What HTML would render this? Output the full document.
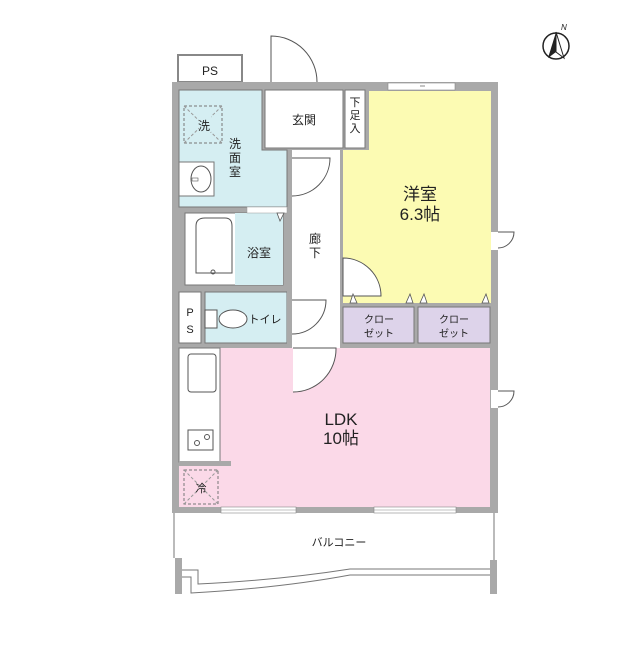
<!DOCTYPE html>
<html><head><meta charset="utf-8"><style>
html,body{margin:0;padding:0;background:#fff}
svg text{font-family:"Liberation Sans","Noto Sans CJK JP",sans-serif;fill:#222}
</style></head><body>
<svg width="640" height="640" viewBox="0 0 640 640" xmlns="http://www.w3.org/2000/svg">
<!-- north -->
<circle cx="556" cy="46" r="13" fill="none" stroke="#222" stroke-width="1.5"/>
<polygon points="556,32 548,58 556,52" fill="#222"/>
<polygon points="556,32 564,58 556,52" fill="#fff" stroke="#222"/>
<text x="561" y="30" font-size="8" font-style="italic">N</text>

<!-- PS top -->
<rect x="178" y="55" width="64" height="27" fill="#fff" stroke="#888" stroke-width="2"/>
<text x="210" y="75" font-size="12" text-anchor="middle">PS</text>
<!-- entrance door -->
<path d="M271,82 L271,36 A46,46 0 0 1 317,82" fill="#fff" stroke="#555" stroke-width="1"/>

<!-- outer walls fill -->
<rect x="172" y="82" width="326" height="431" fill="#a9a9a9"/>

<!-- rooms -->
<polygon points="179,90 262,90 262,150 287,150 287,207 179,207" fill="#d5eef2" stroke="#777"/>
<rect x="265" y="90" width="78" height="58" fill="#fff" stroke="#777"/>
<rect x="345" y="90" width="20" height="58" fill="#fff" stroke="#777"/>
<polygon points="369,91 491,91 491,303 343,303 343,150 369,150" fill="#fcfbb3"/>
<rect x="292" y="150" width="48" height="198" fill="#fff"/>
<rect x="185" y="213" width="98" height="72" fill="#fff" stroke="#777"/>
<rect x="235" y="213" width="48" height="72" fill="#d5eef2"/>
<rect x="179" y="292" width="22" height="51" fill="#fff" stroke="#777"/>
<rect x="205" y="292" width="82" height="51" fill="#d5eef2" stroke="#777"/>
<rect x="343" y="307" width="71" height="36" fill="#ddd3ea" stroke="#777"/>
<rect x="418" y="307" width="72" height="36" fill="#ddd3ea" stroke="#777"/>
<rect x="220" y="348" width="270" height="159" fill="#fbd9e8"/>
<rect x="179" y="348" width="41" height="114" fill="#fff" stroke="#777"/>
<rect x="179" y="466" width="41" height="41" fill="#fbd9e8"/>
<rect x="179" y="461" width="52" height="5" fill="#a9a9a9"/>
<rect x="287" y="207" width="5" height="141" fill="#a9a9a9"/>
<rect x="247" y="207" width="40" height="6" fill="#fff" stroke="#999" stroke-width="0.5"/>

<!-- windows -->
<rect x="388" y="83" width="67" height="7" fill="#fff" stroke="#888" stroke-width="0.6"/>
<line x1="420" y1="86" x2="425" y2="86" stroke="#888"/>
<rect x="221" y="507" width="75" height="6" fill="#fff" stroke="#888" stroke-width="0.6"/>
<rect x="374" y="507" width="82" height="6" fill="#fff" stroke="#888" stroke-width="0.6"/>
<line x1="221" y1="510" x2="296" y2="510" stroke="#888" stroke-width="0.6"/>
<line x1="374" y1="510" x2="456" y2="510" stroke="#888" stroke-width="0.6"/>

<!-- doors -->
<path d="M292,158 L330,158 A38,38 0 0 1 292,196" fill="#fff" stroke="#555"/>
<path d="M343,258 A38,38 0 0 1 381,296 L343,296Z" fill="#fff" stroke="#555"/>
<path d="M292,300 L326,300 A34,34 0 0 1 292,334" fill="#fff" stroke="#555"/>
<path d="M293,348 L336,348 A43,43 0 0 1 293,392" fill="#fff" stroke="#555"/>
<rect x="491" y="232" width="7" height="18" fill="#fff"/>
<path d="M498,232 L514,232 A16,16 0 0 1 498,248" fill="#fff" stroke="#555"/>
<rect x="491" y="390" width="7" height="18" fill="#fff"/>
<path d="M498,391 L514,391 A16,16 0 0 1 498,407" fill="#fff" stroke="#555"/>
<g fill="#fff" stroke="#555" stroke-width="0.8">
<polygon points="350,303 357,303 353,294"/><polygon points="406,303 413,303 410,294"/>
<polygon points="420,303 427,303 424,294"/><polygon points="482,303 489,303 486,294"/>
<polygon points="277,213 284,213 280,221"/>
</g>

<!-- fixtures -->
<rect x="184" y="106" width="38" height="37" fill="none" stroke="#777" stroke-dasharray="3,2"/>
<line x1="184" y1="106" x2="222" y2="143" stroke="#999" stroke-dasharray="3,2"/>
<line x1="222" y1="106" x2="184" y2="143" stroke="#999" stroke-dasharray="3,2"/>
<rect x="199" y="116" width="12" height="16" fill="#d5eef2"/>
<text x="204" y="130" font-size="12" text-anchor="middle">洗</text>
<rect x="179" y="162" width="35" height="34" fill="#fff" stroke="#777"/>
<ellipse cx="201" cy="179" rx="10" ry="13" fill="#fff" stroke="#555"/>
<rect x="192" y="178" width="6" height="3" fill="#fff" stroke="#555" stroke-width="0.6"/>
<path d="M196,273 L196,226 Q196,218 205,218 L225,218 Q232,218 232,226 L232,273Z" fill="#fff" stroke="#555"/>
<circle cx="213" cy="272" r="2" fill="none" stroke="#555"/>
<rect x="205" y="310" width="12" height="18" fill="#fff" stroke="#555"/>
<ellipse cx="233" cy="319" rx="14" ry="9" fill="#fff" stroke="#555"/>
<rect x="188" y="354" width="28" height="38" rx="3" fill="#fff" stroke="#555"/>
<rect x="188" y="430" width="25" height="20" fill="#fff" stroke="#555"/>
<circle cx="197" cy="443" r="2.5" fill="none" stroke="#555"/>
<circle cx="207" cy="437" r="2.5" fill="none" stroke="#555"/>
<rect x="184" y="470" width="34" height="34" fill="none" stroke="#777" stroke-dasharray="3,2"/>
<line x1="184" y1="470" x2="218" y2="504" stroke="#999" stroke-dasharray="3,2"/>
<line x1="218" y1="470" x2="184" y2="504" stroke="#999" stroke-dasharray="3,2"/>
<text x="201" y="492" font-size="11" text-anchor="middle">冷</text>

<!-- labels -->
<text x="304" y="124" font-size="12" text-anchor="middle">玄関</text>
<text x="355" y="106" font-size="11" text-anchor="middle">下</text>
<text x="355" y="119" font-size="11" text-anchor="middle">足</text>
<text x="355" y="132" font-size="11" text-anchor="middle">入</text>
<text x="235" y="148" font-size="12" text-anchor="middle">洗</text>
<text x="235" y="162" font-size="12" text-anchor="middle">面</text>
<text x="235" y="176" font-size="12" text-anchor="middle">室</text>
<text x="259" y="257" font-size="12" text-anchor="middle">浴室</text>
<text x="315" y="243" font-size="12" text-anchor="middle">廊</text>
<text x="315" y="257" font-size="12" text-anchor="middle">下</text>
<text x="190" y="316" font-size="11" text-anchor="middle">P</text>
<text x="190" y="333" font-size="11" text-anchor="middle">S</text>
<text x="265" y="323" font-size="11" text-anchor="middle">トイレ</text>
<text x="420" y="200" font-size="17" text-anchor="middle">洋室</text>
<text x="420" y="220" font-size="17" text-anchor="middle">6.3帖</text>
<text x="379" y="323" font-size="10" text-anchor="middle">クロー</text>
<text x="379" y="337" font-size="10" text-anchor="middle">ゼット</text>
<text x="454" y="323" font-size="10" text-anchor="middle">クロー</text>
<text x="454" y="337" font-size="10" text-anchor="middle">ゼット</text>
<text x="341" y="425" font-size="17" text-anchor="middle">LDK</text>
<text x="341" y="444" font-size="17" text-anchor="middle">10帖</text>
<text x="339" y="546" font-size="11" text-anchor="middle">バルコニー</text>

<!-- balcony -->
<line x1="174" y1="513" x2="174" y2="558" stroke="#777"/>
<line x1="494" y1="513" x2="494" y2="560" stroke="#777"/>
<rect x="175" y="558" width="7" height="36" fill="#a9a9a9"/>
<rect x="490" y="560" width="7" height="34" fill="#a9a9a9"/>
<path d="M182,570 L198,570 L198,584 Q280,580 350,569 L490,569" fill="none" stroke="#777"/>
<path d="M182,577 L191,577 L191,593 Q280,588 350,575 L490,575" fill="none" stroke="#777"/>
</svg>
</body></html>
